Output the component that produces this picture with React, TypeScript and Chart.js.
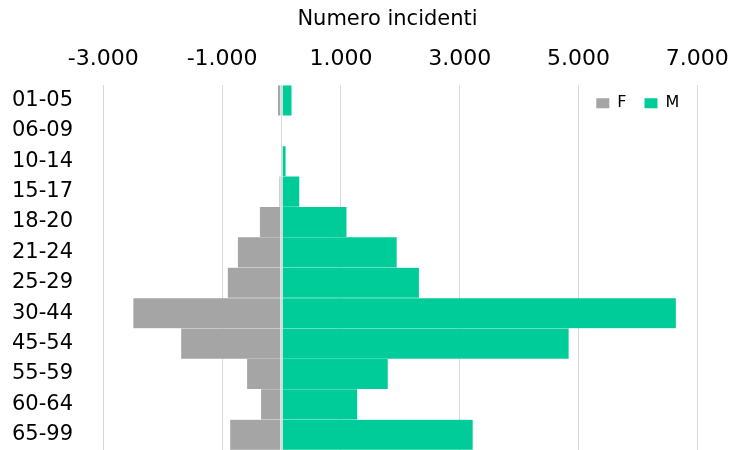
import React, { useEffect, useRef } from 'react';
import { Chart, registerables } from 'chart.js';

Chart.register(...registerables);

const categories = ['01-05', '06-09', '10-14', '15-17', '18-20', '21-24', '25-29', '30-44', '45-54', '55-59', '60-64', '65-99'];
const femaleValues = [70, 0, 0, 45, 375, 745, 915, 2505, 1700, 590, 355, 875];
const maleValues = [180, 0, 80, 310, 1105, 1950, 2325, 6650, 4845, 1800, 1285, 3230];
const seriesLabels = ['F', 'M'];
const seriesColors = ['#a5a5a5', '#00cc99'];
const axisTitle = 'Numero incidenti';
const tickValues = [-3000, -1000, 1000, 3000, 5000, 7000];
const axisMin = -3000;
const axisMax = 7000;

function fmt(v: number): string {
  const s = Math.abs(v).toString().replace(/\B(?=(\d{3})+(?!\d))/g, '.');
  return (v < 0 ? '-' : '') + s;
}

const FONT = 'DejaVu Sans';

const placeBoxes = {
  id: 'placeBoxes',
  afterLayout(chart: any) {
    const ca = chart.chartArea;
    const lg = chart.legend;
    if (lg) {
      const h = 40;
      lg.top = ca.top - 8;
      lg.bottom = lg.top + h;
      lg.height = h;
      lg.left = ca.left;
      lg.right = ca.right;
      lg.width = ca.right - ca.left;
    }
    const t = chart.titleBlock;
    if (t) {
      const center = 387.5;
      const half = (t.right - t.left) / 2;
      t.left = center - half;
      t.right = center + half;
    }
  },
};

export default function App() {
  const ref = useRef<HTMLCanvasElement | null>(null);

  useEffect(() => {
    if (!ref.current) return;
    Chart.defaults.font.family = FONT;
    const barStyle = {
      borderColor: 'rgba(255,255,255,0)',
      borderWidth: { top: 0.5, bottom: 0.5, left: 1, right: 1 },
      borderSkipped: false,
      barPercentage: 1,
      categoryPercentage: 1,
    };
    const chart = new Chart(ref.current, {
      type: 'bar',
      data: {
        labels: categories,
        datasets: [
          { label: seriesLabels[0], data: femaleValues.map((v) => -v), backgroundColor: seriesColors[0], ...barStyle } as any,
          { label: seriesLabels[1], data: maleValues, backgroundColor: seriesColors[1], ...barStyle } as any,
        ],
      },
      options: {
        indexAxis: 'y',
        responsive: false,
        animation: false,
        layout: { padding: { left: 12, right: 32.7, top: 0, bottom: 0 } },
        scales: {
          x: {
            type: 'linear',
            position: 'top',
            stacked: true,
            min: axisMin,
            max: axisMax,
            ticks: {
              stepSize: 1000,
              autoSkip: false,
              maxRotation: 0,
              minRotation: 0,
              padding: 13,
              color: '#000',
              font: { family: FONT, size: 22 },
              callback: (v: any) => (tickValues.includes(Number(v)) ? fmt(Number(v)) : ''),
            },
            grid: {
              drawTicks: false,
              lineWidth: 1,
              color: (c: any) =>
                c.tick && (c.tick.value === 0 || tickValues.includes(c.tick.value)) ? '#d9d9d9' : 'rgba(0,0,0,0)',
            },
            border: { display: false },
            afterFit(s: any) {
              s.paddingLeft = 0;
              s.paddingRight = 0;
              s.height = 52;
            },
          },
          y: {
            type: 'category',
            stacked: true,
            grid: { display: false, drawTicks: false },
            border: { display: false },
            ticks: {
              crossAlign: 'far',
              padding: 0,
              color: '#000',
              font: { family: FONT, size: 21 },
            },
            afterFit(s: any) {
              s.width = 91.3;
              s.paddingTop = 0;
              s.paddingBottom = 0;
            },
          },
        },
        plugins: {
          title: {
            display: true,
            text: axisTitle,
            color: '#000',
            font: { family: FONT, size: 21, weight: 'normal', lineHeight: 1.2 },
            padding: { top: 7, bottom: 0 },
          },
          legend: {
            display: true,
            position: 'top',
            align: 'end',
            maxHeight: 1,
            labels: {
              boxWidth: 13,
              boxHeight: 10,
              padding: 18,
              color: '#000',
              font: { family: FONT, size: 16 },
            },
          },
          tooltip: { enabled: false },
        },
      } as any,
      plugins: [placeBoxes],
    });
    return () => chart.destroy();
  }, []);

  return (
    <div style={{ position: 'absolute', left: 0, top: 0, width: 730, height: 450 }}>
      <canvas ref={ref} width={730} height={450} style={{ display: 'block' }} />
    </div>
  );
}
